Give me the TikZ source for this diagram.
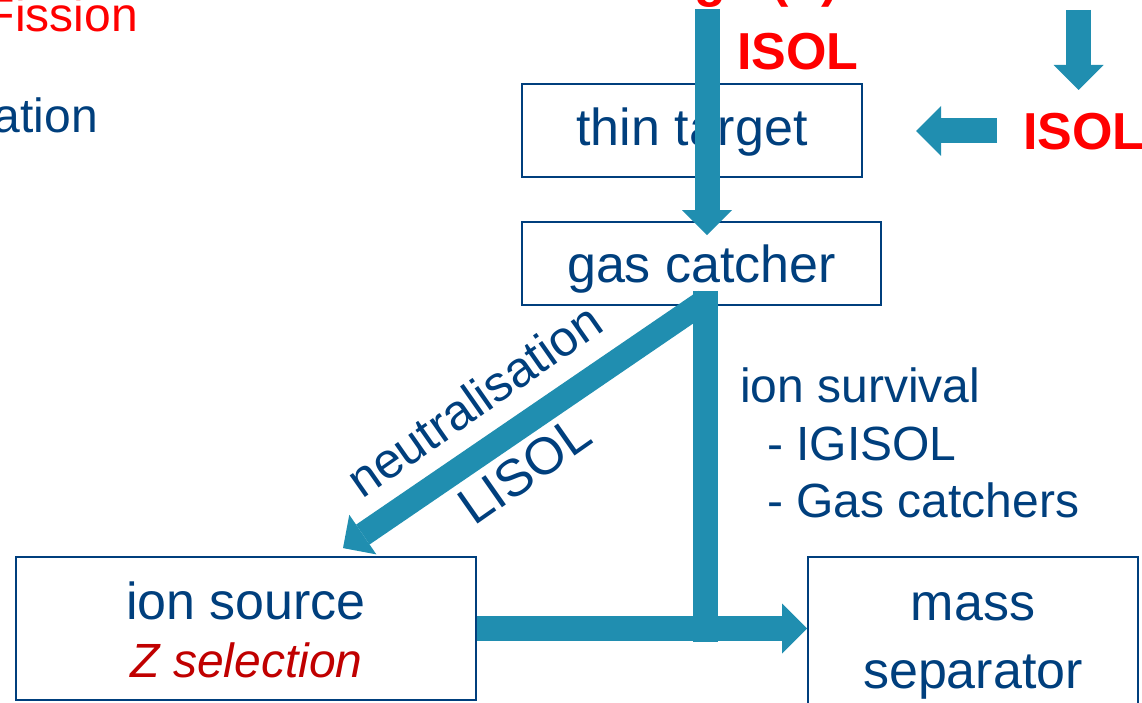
\documentclass[tikz,border=0pt]{standalone}
\usepackage{fontspec}
\setmainfont{Liberation Sans}
\usetikzlibrary{arrows.meta,calc}
\definecolor{tblue}{RGB}{0,63,125}
\definecolor{flowc}{RGB}{32,142,176}
\definecolor{isred}{RGB}{255,0,0}
\definecolor{zred}{RGB}{192,0,0}
\tikzset{
 box/.style={draw=tblue, line width=1.8pt, inner sep=0pt},
 boxtext/.style={font=\fontsize{52}{60}\selectfont, text=tblue, inner sep=0pt, anchor=base},
 lbl/.style={font=\fontsize{48}{56}\selectfont, text=tblue, inner sep=0pt},
 redlbl/.style={font=\fontsize{52}{60}\selectfont\bfseries, text=isred, inner sep=0pt},
 flow/.style={draw=flowc, line width=25pt, -{Triangle[length=25pt,width=50pt,line width=0pt]}},
 shaft/.style={draw=flowc, line width=25pt},
}
\begin{document}
\begin{tikzpicture}[x=1pt,y=-1pt]
\useasboundingbox (0,0) rectangle (1142,703);
\clip (0,0) rectangle (1142,703);

% left column fragments
\node[lbl, text=isred, anchor=base east] (fission) at (138,32) {Fission};
\node[lbl, anchor=base east] (ation) at (98,133) {ation};

% top fragment
\node[redlbl, anchor=base west] (topfrag) at (694,-3) {g\hspace{46pt}(?)};

% boxes
\node[box, minimum width=340pt, minimum height=93pt] (tt) at (692,130.5) {};
\node[box, minimum width=359pt, minimum height=83pt] (gc) at (701.5,263.5) {};
\node[box, minimum width=460pt, minimum height=143pt] (is) at (246,628.5) {};
\node[box, minimum width=330pt, minimum height=158pt] (ms) at (973,636) {};

% box texts
\node[boxtext] (tt-t) at (692,146) {thin target};
\node[boxtext] (gc-t) at (701.5,282) {gas catcher};
\node[boxtext] (is-t) at (246,619) {ion source};
\node[boxtext, font=\fontsize{48}{56}\selectfont\itshape, text=zred] (is-z) at (246.5,677) {Z selection};
\node[boxtext] (ms-t1) at (973,620) {mass};
\node[boxtext] (ms-t2) at (973,688) {separator};

% ISOL labels
\node[redlbl, anchor=base west] (isol1) at (737,70) {ISOL};
\node[redlbl, anchor=base west] (isol2) at (1023,150) {ISOL};

% free arrow ends
\coordinate (topstart) at (707,9);
\coordinate (rdstart) at (1078.5,10);
\coordinate (rdend) at (1078.5,90);
\coordinate (rlstart) at (997,131);
\coordinate (rlend) at (916,131);

% arrows
\draw[flow] (topstart) -- ($(gc.north)+(5.5,14)$);
\draw[flow] (rdstart) -- (rdend);
\draw[flow] (rlstart) -- (rlend);

\coordinate (vtop) at ($(gc.south)+(3.5,-15)$);
\coordinate (dtop) at ($(gc.south)+(3.5,-5)$);
\coordinate (j) at ($(is.east -| gc.south)+(3.5,13)$);
\draw[shaft] (vtop) -- (j);
\draw[draw=flowc, line width=24pt, -{Triangle[length=24pt,width=48pt,line width=0pt]}] (dtop) -- ($(is.north)+(97,-8)$);
\draw[flow] (is.east) -- (is.east -| ms.west);

% labels
\node[lbl, font=\fontsize{50}{58}\selectfont, rotate=35] (neut) at (474,400) {neutralisation};
\node[lbl, font=\fontsize{52}{60}\selectfont, rotate=35] (lisol) at (525,470) {LISOL};
\node[lbl, anchor=base west] (surv1) at (740,402) {ion survival};
\node[lbl, anchor=base west] (surv2) at (767,460) {- IGISOL};
\node[lbl, anchor=base west] (surv3) at (767,517) {- Gas catchers};
\end{tikzpicture}
\end{document}
